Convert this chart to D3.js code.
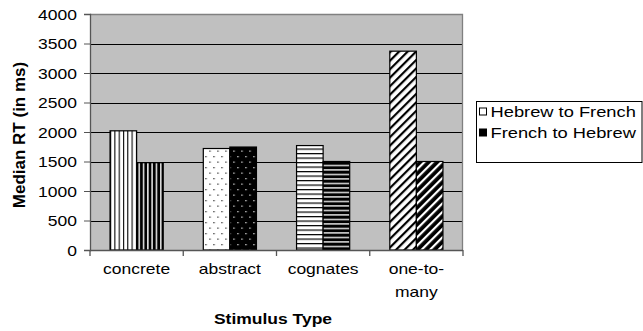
<!DOCTYPE html>
<html>
<head>
<meta charset="utf-8">
<script src="https://cdn.jsdelivr.net/npm/d3@7/dist/d3.min.js"></script>
<style>
  html, body { margin: 0; padding: 0; background: #fff; }
  svg { display: block; font-family: Arial, "Liberation Sans", sans-serif; }
</style>
</head>
<body>
<svg id="chart" width="643" height="331"></svg>
<script>
// Median response times per stimulus type and translation direction
const categories = ["concrete", "abstract", "cognates", "one-to-many"];
const categoryLines = [["concrete"], ["abstract"], ["cognates"], ["one-to-", "many"]];
const seriesNames = ["Hebrew to French", "French to Hebrew"];
const hebrewToFrench = [2020, 1720, 1770, 3370];
const frenchToHebrew = [1480, 1745, 1500, 1500];
const yTicks = [0, 500, 1000, 1500, 2000, 2500, 3000, 3500, 4000];

const svg = d3.select("#chart");
const plot = { left: 90, top: 14, right: 463, bottom: 250 };
// horizontal text is set slightly wide
const LABEL_FONT = 14, LABEL_SX = 1.25;
const LEGEND_FONT = 15, LEGEND_SX = 1.22;

// Hatch patterns: one per category, light version for H→F and dark for F→H
const defs = svg.append("defs");
function pat(id, w, h, build, transform) {
  const p = defs.append("pattern").attr("id", id)
    .attr("patternUnits", "userSpaceOnUse").attr("width", w).attr("height", h);
  if (transform) p.attr("patternTransform", transform);
  build(p);
}
// vertical stripes
pat("p-concrete-0", 4.3, 10, p => {
  p.append("rect").attr("width", 4.3).attr("height", 10).attr("fill", "#fff");
  p.append("rect").attr("x", 0).attr("width", 1.1).attr("height", 10).attr("fill", "#000");
});
pat("p-concrete-1", 4.3, 10, p => {
  p.append("rect").attr("width", 4.3).attr("height", 10).attr("fill", "#000");
  p.append("rect").attr("x", 2.7).attr("width", 1.4).attr("height", 10).attr("fill", "#fff");
});
// dots
pat("p-abstract-0", 8, 11, p => {
  p.append("rect").attr("width", 8).attr("height", 11).attr("fill", "#fff");
  p.append("rect").attr("x", 2).attr("y", 2).attr("width", 1.3).attr("height", 1.3).attr("fill", "#333");
  p.append("rect").attr("x", 6).attr("y", 7.5).attr("width", 1.3).attr("height", 1.3).attr("fill", "#333");
});
pat("p-abstract-1", 8, 11, p => {
  p.append("rect").attr("width", 8).attr("height", 11).attr("fill", "#000");
  p.append("rect").attr("x", 2).attr("y", 2).attr("width", 1.3).attr("height", 1.3).attr("fill", "#ddd");
  p.append("rect").attr("x", 6).attr("y", 7.5).attr("width", 1.3).attr("height", 1.3).attr("fill", "#ddd");
});
// horizontal stripes
pat("p-cognates-0", 10, 4.5, p => {
  p.append("rect").attr("width", 10).attr("height", 4.5).attr("fill", "#fff");
  p.append("rect").attr("y", 0).attr("width", 10).attr("height", 1.2).attr("fill", "#000");
});
pat("p-cognates-1", 10, 4.5, p => {
  p.append("rect").attr("width", 10).attr("height", 4.5).attr("fill", "#000");
  p.append("rect").attr("y", 2.8).attr("width", 10).attr("height", 1.3).attr("fill", "#fff");
});
// diagonal stripes (upward to the right)
pat("p-one-to-many-0", 6, 10, p => {
  p.append("rect").attr("width", 6).attr("height", 10).attr("fill", "#fff");
  p.append("rect").attr("width", 2.2).attr("height", 10).attr("fill", "#000");
}, "rotate(45)");
pat("p-one-to-many-1", 6, 10, p => {
  p.append("rect").attr("width", 6).attr("height", 10).attr("fill", "#000");
  p.append("rect").attr("width", 2.2).attr("height", 10).attr("fill", "#fff");
}, "rotate(45)");

// Scales
const x = d3.scaleBand().domain(categories)
  .range([plot.left, plot.right]).paddingInner(0.43).paddingOuter(0.215);
const xs = d3.scaleBand().domain([0, 1]).range([0, x.bandwidth()]);
const y = d3.scaleLinear().domain([0, 4000]).range([plot.bottom, plot.top]);

// Plot area
svg.append("rect")
  .attr("x", plot.left).attr("y", plot.top)
  .attr("width", plot.right - plot.left).attr("height", plot.bottom - plot.top)
  .attr("fill", "#c0c0c0");

// Gridlines
svg.append("g").selectAll("line")
  .data(yTicks.filter(t => t > 0 && t < 4000))
  .join("line")
  .attr("x1", plot.left).attr("x2", plot.right)
  .attr("y1", d => Math.round(y(d)) + 0.5).attr("y2", d => Math.round(y(d)) + 0.5)
  .attr("stroke", "#000").attr("stroke-width", 1);

// Top and right border of the plot area
svg.append("path")
  .attr("d", `M${plot.left},${plot.top + 0.5}H${plot.right - 0.5}V${plot.bottom}`)
  .attr("fill", "none").attr("stroke", "#808080").attr("stroke-width", 1.3);

// Bars
const rows = categories.map((c, i) => ({ c, vals: [hebrewToFrench[i], frenchToHebrew[i]] }));
const groups = svg.append("g").selectAll("g").data(rows).join("g")
  .attr("transform", d => `translate(${x(d.c)},0)`);
groups.selectAll("rect")
  .data(d => d.vals.map((v, s) => ({ c: d.c, s, v })))
  .join("rect")
  .attr("x", d => xs(d.s))
  .attr("y", d => y(d.v))
  .attr("width", xs.bandwidth())
  .attr("height", d => y(0) - y(d.v))
  .attr("fill", d => `url(#p-${d.c}-${d.s})`)
  .attr("stroke", "#000").attr("stroke-width", 1.2);

// Y axis (ticks from d3, labels set wide)
const yAxis = svg.append("g")
  .attr("transform", `translate(${plot.left},0)`)
  .call(d3.axisLeft(y).tickValues(yTicks).tickSize(6).tickPadding(6).tickFormat(d3.format("d")));
yAxis.select(".domain").attr("stroke", "#555").attr("stroke-width", 1.3);
yAxis.selectAll(".tick line").attr("stroke", "#555");
yAxis.selectAll(".tick text")
  .attr("font-size", LABEL_FONT)
  .attr("font-family", "Arial, 'Liberation Sans', sans-serif")
  .attr("fill", "#000")
  .attr("x", 0).attr("dy", "0.36em")
  .attr("transform", `translate(-13,0) scale(${LABEL_SX},1)`);

// X axis line and category boundary ticks
svg.append("line")
  .attr("x1", plot.left).attr("x2", plot.right)
  .attr("y1", plot.bottom + 0.5).attr("y2", plot.bottom + 0.5)
  .attr("stroke", "#555").attr("stroke-width", 1.3);
const bounds = d3.range(categories.length + 1).map(i => plot.left + i * x.step());
svg.append("g").selectAll("line").data(bounds).join("line")
  .attr("x1", d => d).attr("x2", d => d)
  .attr("y1", plot.bottom).attr("y2", plot.bottom + 6)
  .attr("stroke", "#555").attr("stroke-width", 1.3);

// Category labels
const catLabels = svg.append("g").selectAll("text")
  .data(categories.map((c, i) => ({ c, lines: categoryLines[i] })))
  .join("text")
  .attr("text-anchor", "middle")
  .attr("font-size", LABEL_FONT)
  .attr("transform", d => `translate(${x(d.c) + x.bandwidth() / 2},274) scale(${LABEL_SX},1)`);
catLabels.selectAll("tspan").data(d => d.lines).join("tspan")
  .attr("x", 0)
  .attr("dy", (d, i) => i === 0 ? 0 : 22.7)
  .text(d => d);

// Axis titles
svg.append("text")
  .attr("transform", `translate(273,324) scale(${LABEL_SX},1)`)
  .attr("text-anchor", "middle").attr("font-weight", "bold").attr("font-size", LABEL_FONT)
  .text("Stimulus Type");
svg.append("text")
  .attr("transform", `translate(25,${(plot.top + plot.bottom) / 2 + 3}) rotate(-90)`)
  .attr("text-anchor", "middle").attr("font-weight", "bold").attr("font-size", 17)
  .text("Median RT (in ms)");

// Legend
const legend = svg.append("g");
legend.append("rect")
  .attr("x", 476.5).attr("y", 101.5).attr("width", 165.5).attr("height", 61)
  .attr("fill", "#fff").attr("stroke", "#000").attr("stroke-width", 1);
const items = legend.selectAll("g.item").data(seriesNames).join("g")
  .attr("class", "item")
  .attr("transform", (d, i) => `translate(0,${i * 21})`);
items.append("rect")
  .attr("x", 479.5).attr("y", 108).attr("width", 7).attr("height", 7)
  .attr("fill", (d, i) => i === 0 ? "#fff" : "#000")
  .attr("stroke", "#000").attr("stroke-width", 1);
items.append("text")
  .attr("transform", `translate(490.5,117) scale(${LEGEND_SX},1)`)
  .attr("font-size", LEGEND_FONT)
  .text(d => d);
</script>
</body>
</html>
